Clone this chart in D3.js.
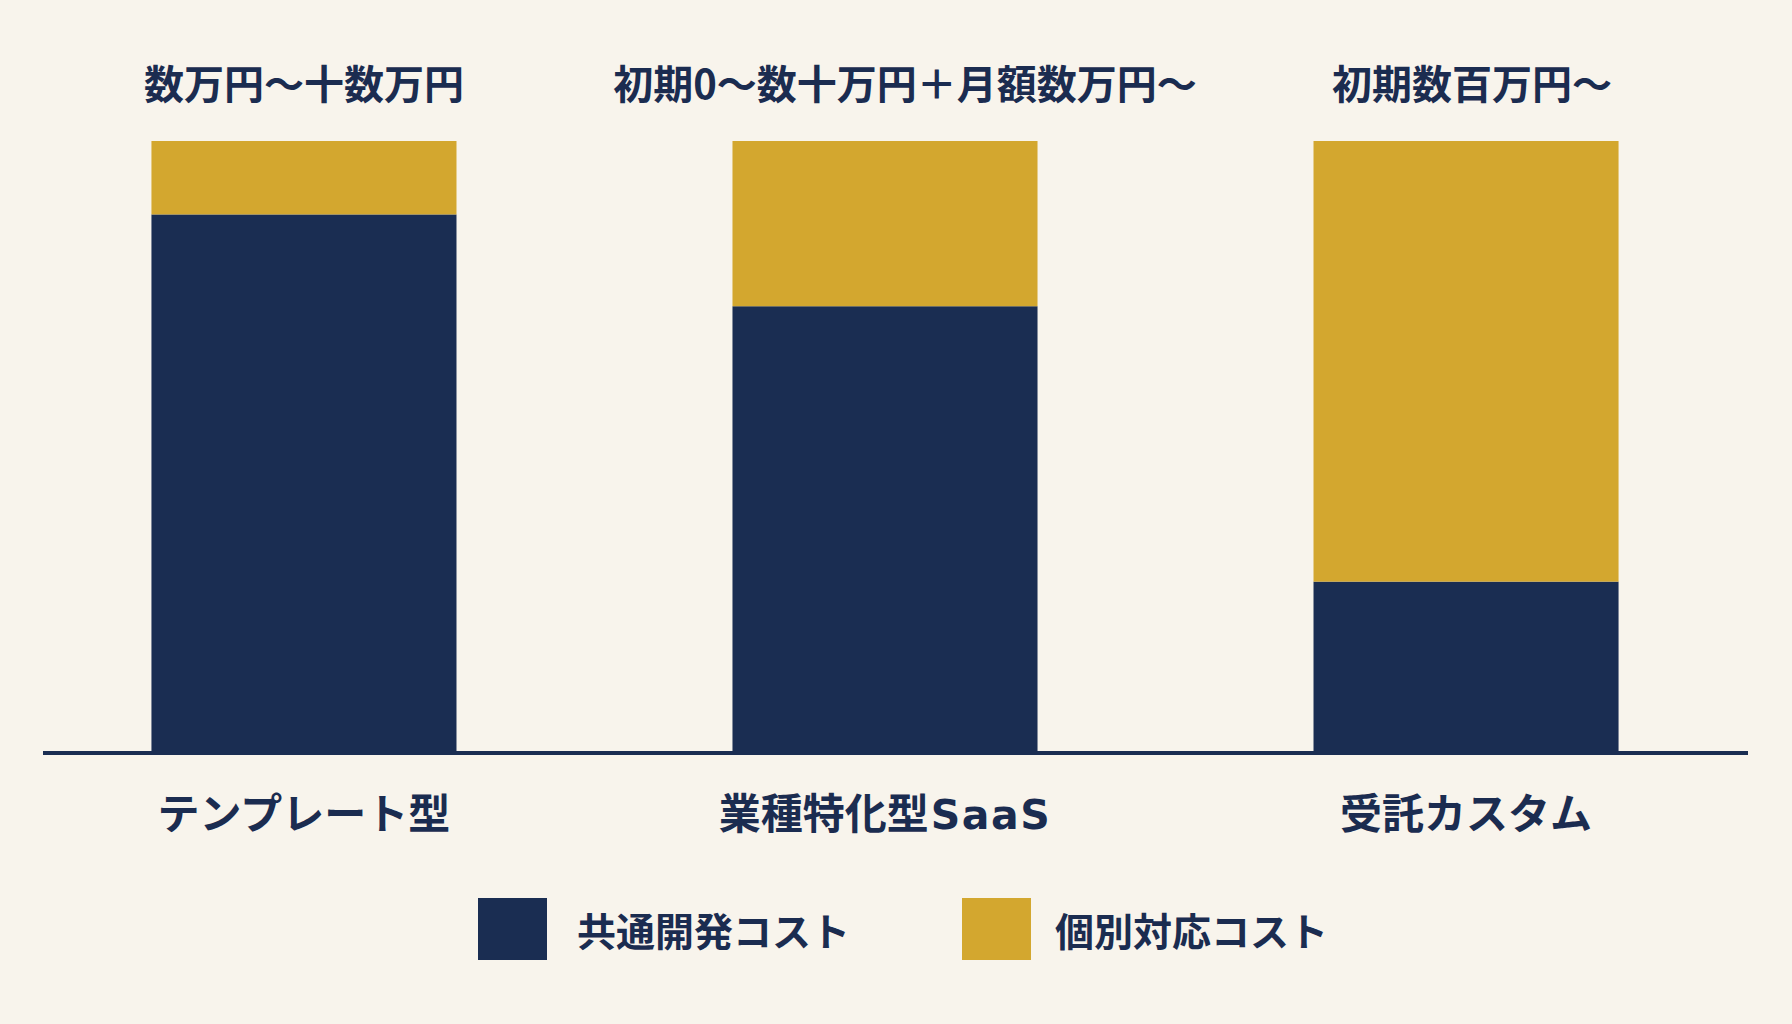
<!DOCTYPE html>
<html lang="ja">
<head>
<meta charset="utf-8">
<script src="https://cdn.jsdelivr.net/npm/d3@7/dist/d3.min.js"></script>
<style>
  html, body { margin: 0; padding: 0; background: #f8f4ec; }
  svg { display: block; }
  text { font-family: "Noto Sans CJK JP", "Noto Sans", sans-serif; font-weight: 700; fill: #1b2c50; }
</style>
</head>
<body>
<svg id="chart" width="1792" height="1024"></svg>
<script>
// ---- data ----
const categories = ["テンプレート型", "業種特化型SaaS", "受託カスタム"];
const priceLabels = ["数万円～十数万円", "初期0～数十万円＋月額数万円～", "初期数百万円～"];
const commonCost = [88, 73, 28];      // 共通開発コスト (%)
const customCost = [12, 27, 72];      // 個別対応コスト (%)
const seriesNames = ["共通開発コスト", "個別対応コスト"];
const seriesKeys = ["common", "custom"];

// ---- layout ----
const W = 1792, H = 1024;
const navy = "#1a2d52", gold = "#d3a72f";
const priceDx = [0, 20, 6];
const svg = d3.select("#chart");
svg.append("rect").attr("width", W).attr("height", H).attr("fill", "#f8f4ec");

const table = categories.map((c, i) => ({ cat: c, common: commonCost[i], custom: customCost[i] }));
const stack = d3.stack().keys(seriesKeys)(table);

const x = d3.scaleBand().domain(categories).range([12, 1758]).paddingInner(0.475).paddingOuter(0.24);
const y = d3.scaleLinear().domain([0, 100]).range([753, 141]);
const color = d3.scaleOrdinal().domain(seriesKeys).range([navy, gold]);

svg.append("g").selectAll("g").data(stack).join("g")
  .attr("fill", d => color(d.key))
  .selectAll("rect").data(d => d).join("rect")
  .attr("x", d => x(d.data.cat))
  .attr("width", x.bandwidth())
  .attr("y", d => y(d[1]))
  .attr("height", d => y(d[0]) - y(d[1]));

// baseline axis
svg.append("line")
  .attr("x1", 43).attr("x2", 1748)
  .attr("y1", y(0)).attr("y2", y(0))
  .attr("stroke", navy).attr("stroke-width", 4);

// price labels above bars
svg.append("g").selectAll("text").data(priceLabels).join("text")
  .attr("x", (d, i) => x(categories[i]) + x.bandwidth() / 2 + priceDx[i])
  .attr("y", 99)
  .attr("text-anchor", "middle")
  .attr("font-size", 40)
  .text(d => d);

// category labels (Latin part in a wider face)
const catText = svg.append("g").selectAll("text").data(categories).join("text")
  .attr("x", d => x(d) + x.bandwidth() / 2)
  .attr("y", 829)
  .attr("text-anchor", "middle")
  .attr("font-size", 42);
catText.each(function (d) {
  const m = d.match(/^([^A-Za-z]*)([A-Za-z]*)$/);
  const t = d3.select(this);
  t.append("tspan").text(m[1]);
  if (m[2]) t.append("tspan").attr("dx", 2).attr("letter-spacing", 1.5)
    .style("font-family", "'DejaVu Sans', sans-serif").attr("font-size", 41).text(m[2]);
});

// legend
const legendX = [478, 962];
const lg = svg.append("g").selectAll("g").data(seriesKeys).join("g")
  .attr("transform", (d, i) => `translate(${legendX[i]},898)`);
lg.append("rect").attr("width", 69).attr("height", 62).attr("fill", d => color(d));
lg.append("text")
  .attr("x", (d, i) => i === 0 ? 99 : 93)
  .attr("y", 48)
  .attr("font-size", 39)
  .text((d, i) => seriesNames[i]);
</script>
</body>
</html>
